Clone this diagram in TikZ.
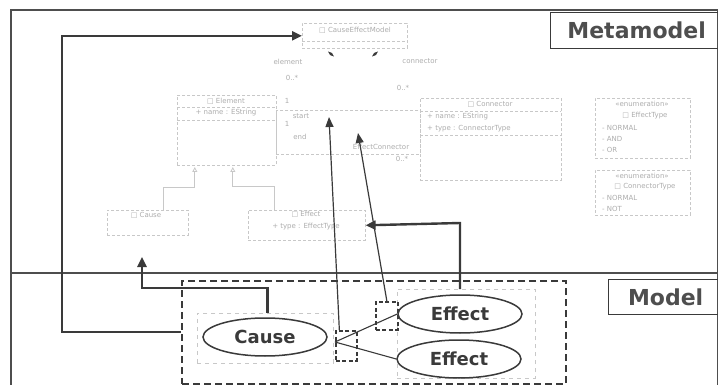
\documentclass[tikz,border=0pt]{standalone}
\usepackage{fontspec}
\setmainfont{DejaVu Sans}
\usetikzlibrary{arrows.meta,shapes.geometric}
\definecolor{ink}{HTML}{3A3A3A}
\definecolor{faint}{HTML}{C8C8C8}
\definecolor{fainttxt}{HTML}{ACACAC}
\begin{document}
\begin{tikzpicture}[x=1pt,y=-1pt,
  frame/.style={draw=ink!90, line width=1.4pt},
  tag/.style={draw=ink, line width=1.3pt, font=\bfseries\fontsize{22}{24}\selectfont, text=ink!90, inner sep=0pt, anchor=north west},
  elli/.style={ellipse, draw=ink, line width=1.5pt, font=\bfseries\fontsize{18}{20}\selectfont, text=ink, inner sep=0pt, minimum width=124pt, minimum height=38pt},
  bigarrow/.style={draw=ink, line width=2.4pt, -{Triangle[length=10pt,width=9pt]}},
  thinarrow/.style={draw=ink, line width=1.2pt, -{Triangle[length=10pt,width=8pt]}},
  groupbox/.style={draw=ink, line width=2pt, dash pattern=on 7pt off 4pt, anchor=north west, inner sep=0pt},
  smallbox/.style={draw=ink, line width=1.7pt, dash pattern=on 4pt off 2.5pt, anchor=north west, inner sep=0pt},
  innerbox/.style={draw=faint, line width=0.8pt, dash pattern=on 4pt off 4pt, anchor=north west, inner sep=0pt},
  umlbox/.style={draw=faint, densely dashed, line width=0.6pt, anchor=north west, inner sep=0pt},
  utxt/.style={text=fainttxt, font=\fontsize{7}{8}\selectfont, inner sep=0pt},
  uline/.style={draw=faint, densely dashed, line width=0.6pt},
  gen/.style={draw=faint, line width=0.8pt, -{Triangle[open,length=5pt,width=5pt]}},
  fork/.style={draw=ink, line width=1.1pt}]
\useasboundingbox (0,0) rectangle (718,385);

% frame
\draw[frame] (11,10) rectangle (717.5,392);
\draw[frame] (11,273) -- (718,273);

% labels
\node[tag, minimum width=172pt, minimum height=36pt] (meta) at (550,12) {Metamodel};
\node[tag, minimum width=114pt, minimum height=35pt] (model) at (608,279) {Model};

% ---------- faint metamodel (UML) ----------
\node[umlbox, minimum width=105pt, minimum height=25pt] (cem) at (302,23) {};
\node[utxt] (cemt) at (355,30) {□ CauseEffectModel};
\draw[uline] (302,41) -- (407,41);
\node[fill=ink, diamond, inner sep=0pt, minimum width=3pt, minimum height=8pt, rotate=50] (d1) at (331,54) {};
\node[fill=ink, diamond, inner sep=0pt, minimum width=3pt, minimum height=8pt, rotate=-50] (d2) at (375,54) {};
\node[utxt] (elt) at (288,62) {element};
\node[utxt] (elm) at (292,78) {0..*};
\node[utxt] (cnt) at (420,61) {connector};
\node[utxt] (cnm) at (403,88) {0..*};

\node[umlbox, minimum width=99pt, minimum height=70pt] (element) at (177,95) {};
\node[utxt] (elemt) at (226,101) {□ Element};
\draw[uline] (177,107) -- (276,107);
\node[utxt] (elema) at (226,113) {+ name : EString};
\draw[uline] (177,120) -- (276,120);

\node[umlbox, minimum width=144pt, minimum height=44pt] (assoc) at (276,110) {};
\node[utxt] (one1) at (287,101) {1};
\node[utxt] (one2) at (287,124) {1};
\node[utxt] (st) at (301,116) {start};
\node[utxt] (en) at (300,137) {end};
\node[utxt] (ec) at (381,147) {EffectConnector};
\node[utxt] (ecm) at (402,159) {0..*};

\node[umlbox, minimum width=141pt, minimum height=82pt] (conn) at (420,98) {};
\node[utxt] (connt) at (490,104) {□ Connector};
\draw[uline] (420,111) -- (561,111);
\node[utxt, anchor=west] (conna) at (427,117) {+ name : EString};
\node[utxt, anchor=west] (connb) at (427,129) {+ type : ConnectorType};
\draw[uline] (420,135) -- (561,135);

\node[umlbox, minimum width=95pt, minimum height=60pt] (efftype) at (595,98) {};
\node[utxt] (efft0) at (642,104) {«enumeration»};
\node[utxt] (efft1) at (645,116) {□ EffectType};
\node[utxt, anchor=west] (efft2) at (602,128) {- NORMAL};
\node[utxt, anchor=west] (efft3) at (602,139) {- AND};
\node[utxt, anchor=west] (efft4) at (602,150) {- OR};

\node[umlbox, minimum width=95pt, minimum height=45pt] (conntype) at (595,170) {};
\node[utxt] (cont0) at (642,176) {«enumeration»};
\node[utxt] (cont1) at (645,187) {□ ConnectorType};
\node[utxt, anchor=west] (cont2) at (602,198) {- NORMAL};
\node[utxt, anchor=west] (cont3) at (602,209) {- NOT};

\node[umlbox, minimum width=81pt, minimum height=25pt] (causecls) at (107,210) {};
\node[utxt] (causetitle) at (146,215) {□ Cause};
\node[umlbox, minimum width=117pt, minimum height=30pt] (effcls) at (248,210) {};
\node[utxt] (efftitle) at (306,214) {□ Effect};
\node[utxt] (effattr) at (306,227) {+ type : EffectType};

\draw[gen] ([xshift=16pt]causecls.north) -- ++(0,-23) -- ++(31,0) -- ++(0,-20);
\draw[gen] ([xshift=-32pt]effcls.north) -- ++(0,-24) -- ++(-42,0) -- ++(0,-19);

% ---------- model ----------
\node[groupbox, minimum width=384pt, minimum height=103pt] (group) at (181,280) {};
\node[innerbox, minimum width=136pt, minimum height=50pt] (causegrp) at (197,313) {};
\node[innerbox, minimum width=138pt, minimum height=89pt] (effgrp) at (397,289) {};

\node[elli] (cause) at (265,337) {Cause};
\node[elli] (eff1) at (460,314) {Effect};
\node[elli] (eff2) at (459,359) {Effect};

\node[smallbox, minimum width=21pt, minimum height=30pt] (sb1) at (335,330) {};
\node[smallbox, minimum width=22pt, minimum height=28pt] (sb2) at (375,301) {};

\coordinate (forkpt) at (335,342);
\draw[fork] (forkpt) -- (eff1.west);
\draw[fork] (forkpt) -- (eff2.west);

% ---------- arrows ----------
\coordinate (startend) at (329,117);
\coordinate (endend) at (358,133);
\draw[thinarrow] ([xshift=-7pt]sb1.north) -- (startend);
\draw[thinarrow] (sb2.north) -- (endend);

\coordinate (causetip) at (142,257);
\draw[bigarrow] ([xshift=2pt]causegrp.north) -- ++(0,-25) -| (causetip);
\draw[bigarrow] (eff1.north |- effgrp.north) -- ++(0,-66) -- (effcls.east);
\draw[bigarrow] (group.west |- 0,332) -- (62,332) |- (cem.west);
\end{tikzpicture}
\end{document}
